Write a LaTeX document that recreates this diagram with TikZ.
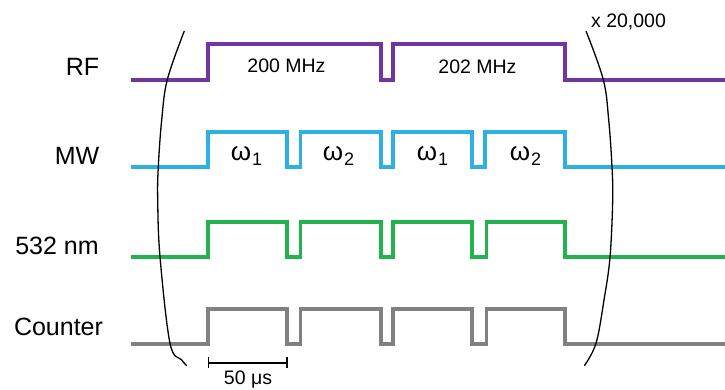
\documentclass[tikz,border=0pt]{standalone}
\usepackage{fontspec}
\setmainfont{Liberation Sans}
\definecolor{rfc}{HTML}{7236A0}
\definecolor{mwc}{HTML}{2EB0E4}
\definecolor{grc}{HTML}{22B34F}
\definecolor{gyc}{HTML}{808080}
\newcommand\wsub[1]{ω\kern0.8pt\raisebox{-5pt}{\fontsize{18}{18}\selectfont #1}}
\begin{document}
\begin{tikzpicture}[x=1pt,y=-1pt,
  sig/.style={line width=3.8pt, line join=miter, line cap=butt},
  lab/.style={font=\fontsize{25}{30}\selectfont, anchor=base, inner sep=0pt},
  small/.style={font=\fontsize{19.5}{23}\selectfont, anchor=base, inner sep=0pt},
  om/.style={font=\fontsize{26}{30}\selectfont, anchor=base, inner sep=0pt},
  brk/.style={line width=1.3pt, black}]
\useasboundingbox (0,0) rectangle (725,389);

% labels
\node[lab] (lrf) at (82.5,75) {RF};
\node[lab] (lmw) at (77,164) {MW};
\node[lab] (lgr) at (57,254) {532 nm};
\node[lab] (lct) at (58.5,335) {Counter};

% RF
\draw[sig, rfc] (130.5,79.7) -- (208.3,79.7) -- (208.3,44.3) -- (380.7,44.3) -- (380.7,79.7)
  -- (393.3,79.7) -- (393.3,44.3) -- (565,44.3) -- (565,79.7) -- (725,79.7);
% MW
\draw[sig, mwc] (130.5,167.2) -- (208.3,167.2) -- (208.3,132) -- (287.3,132) -- (287.3,167.2)
  -- (300.5,167.2) -- (300.5,132) -- (380.7,132) -- (380.7,167.2)
  -- (393.3,167.2) -- (393.3,132) -- (472,132) -- (472,167.2)
  -- (485,167.2) -- (485,132) -- (565,132) -- (565,167.2) -- (725,167.2);
% 532 nm
\draw[sig, grc] (130.5,257.2) -- (208.3,257.2) -- (208.3,222) -- (287.3,222) -- (287.3,257.2)
  -- (300.5,257.2) -- (300.5,222) -- (380.7,222) -- (380.7,257.2)
  -- (393.3,257.2) -- (393.3,222) -- (472.3,222) -- (472.3,257.2)
  -- (486.5,257.2) -- (486.5,222) -- (565,222) -- (565,257.2) -- (725,257.2);
% Counter
\draw[sig, gyc] (130.5,343.8) -- (208.3,343.8) -- (208.3,308.8) -- (287.3,308.8) -- (287.3,343.8)
  -- (300.5,343.8) -- (300.5,308.8) -- (380.7,308.8) -- (380.7,343.8)
  -- (393.3,343.8) -- (393.3,308.8) -- (472.3,308.8) -- (472.3,343.8)
  -- (486.5,343.8) -- (486.5,308.8) -- (565,308.8) -- (565,343.8) -- (725,343.8);

% pulse texts
\node[small] (f1) at (286.5,72.3) {200 MHz};
\node[small] (f2) at (477.5,73.3) {202 MHz};
\node[om] (w1) at (246.5,160) {\wsub{1}};
\node[om] (w2) at (338.5,160) {\wsub{2}};
\node[om] (w3) at (432.5,160) {\wsub{1}};
\node[om] (w4) at (525.5,160) {\wsub{2}};
\node[small] (rep) at (628.5,27) {x 20,000};

% brackets
\draw[brk] plot[smooth, tension=0.6] coordinates {(184.3,31) (167.3,79.7) (161.7,120) (158.3,166.7) (157.7,200) (160,256.7) (170,343.3) (181.7,360) (186.7,365.7)};
\draw[brk] plot[smooth, tension=0.6] coordinates {(586,31) (603.3,79.7) (608.7,120) (612,167) (612.7,200) (610,257.3) (604,300) (596,343.3) (584.3,365.7)};

% scale bar
\coordinate (sa) at (208.3,362.7);
\coordinate (sb) at (286.7,362.7);
\draw[line width=1.6pt] (sa) -- (sb);
\draw[line width=1.6pt] (sa) ++(0,-5.5) -- ++(0,11);
\draw[line width=1.6pt] (sb) ++(0,-5.5) -- ++(0,11);
\node[small] (sl) at (248,384.3) {50 μs};
\end{tikzpicture}
\end{document}
